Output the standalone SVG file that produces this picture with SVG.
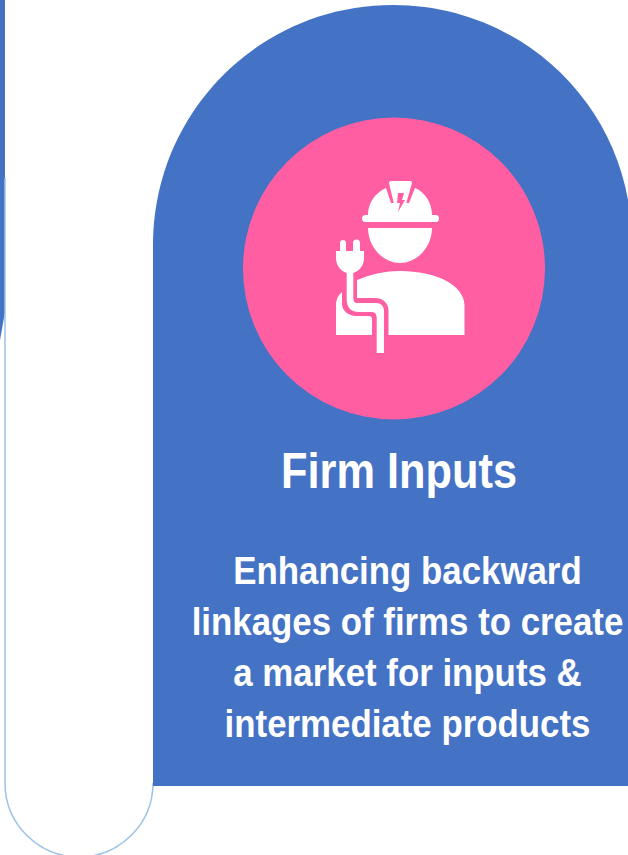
<svg xmlns="http://www.w3.org/2000/svg" width="628" height="855" viewBox="0 0 628 855">
<style>
.t{font-family:"Liberation Sans",Arial,sans-serif;font-weight:700;fill:#fff;text-anchor:middle}
.b{font-size:38.5px}
.w{fill:#fff}
.p{fill:#FF5FA2}
</style>
<rect width="628" height="855" fill="#fff"/>
<g id="left-edge">
<path d="M0 0H5V312L0 340Z" fill="#4472C4"/>
<path d="M5 178V783A74 74 0 0 0 153 783" fill="none" stroke="#9DC3E6" stroke-width="1.5"/>
</g>
<g id="panel">
<path d="M153 786V245C153 112 260 5 393 5C510 5 608 88 628 200V786Z" fill="#4472C4"/>
</g>
<g id="icon">
<circle cx="394" cy="268.500" r="151" class="p"/>
<path class="w" d="M368 215C368 203 375 193 386 188L391 203H409L415 188C425 192 432 203 432 215Z"/>
<path class="w" d="M389 183Q389 181 391 181H410Q412 181 412 183L406 204H394Z"/>
<path class="p" d="M398 193H404L402 200H405L398 212L400 203H397Z"/>
<rect class="w" x="362" y="215" width="77" height="7" rx="3.500"/>
<path class="w" d="M368 228H432C432 247 417 263 400 263C383 263 368 247 368 228Z"/>
<path class="w" d="M340 243a3 3 0 0 1 6 0V251H353V243a3 3 0 0 1 7 0V251H364V258C364 266 359 271 353.300 273V298Q353.300 303 357 303H376C381 303 384 306 384 311V353H376.700V318Q376.700 312 372 312H358C351 312 346.700 307 346.700 300V273C341 271 336 266 336 258V251H340Z"/>
<path class="w" d="M357 280Q378 271 400 271C436 271 464 285 464.500 305V335H388.500V311C388.500 302 382 298 375 298H357Z"/>
<path class="w" d="M342 292V304C342 311 349 316 356 316H369Q372 316 372 319V335H336V305Q336 297 342 292Z"/>
</g>
<g id="labels">
<text class="t" x="399" y="488" font-size="50" textLength="236" lengthAdjust="spacingAndGlyphs">Firm Inputs</text>
<g transform="translate(407.500 0) scale(.905 1)">
<text class="t b" x="0" y="584">Enhancing backward</text>
<text class="t b" x="0" y="635">linkages of firms to create</text>
<text class="t b" x="0" y="686">a market for inputs &amp;</text>
<text class="t b" x="0" y="737">intermediate products</text>
</g>
</g>
</svg>
